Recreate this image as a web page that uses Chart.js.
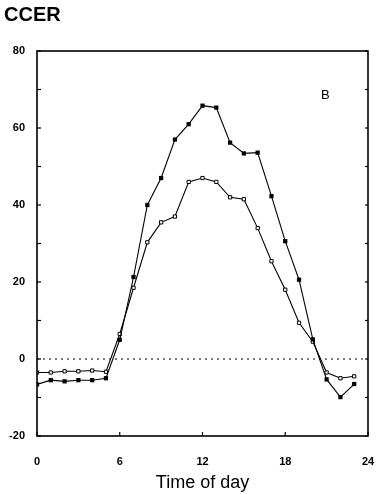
<!DOCTYPE html>
<html><head><meta charset="utf-8">
<script src="https://cdn.jsdelivr.net/npm/chart.js@4"></script>
<style>html,body{margin:0;padding:0;background:#fff;}#wrap{width:382px;height:494px;position:relative;}</style>
</head><body><div id="wrap"><canvas id="c" width="382" height="494"></canvas></div>
<script>
const hours = [0,1,2,3,4,5,6,7,8,9,10,11,12,13,14,15,16,17,18,19,20,21,22,23];
const filledSeries = [-6.6,-5.5,-5.8,-5.5,-5.5,-5.0,5.0,21.3,40,47,57,61,65.8,65.3,56.2,53.4,53.6,42.3,30.6,20.6,5.1,-5.3,-9.9,-6.5];
const openSeries = [-3.5,-3.5,-3.2,-3.2,-3.0,-3.3,6.5,18.5,30.3,35.5,37,46,47,46,42,41.5,34,25.4,18,9.4,4.5,-3.5,-5,-4.5];
const xTicks = [0,6,12,18,24];
const yTicks = [-20,0,20,40,60,80];
const chartTitle = "CCER";
const panelLabel = "B";
const xTitle = "Time of day";

const FONT = "'Liberation Sans', Arial, Helvetica, sans-serif";

const framePlugin = {
  id: 'frame',
  afterDatasetsDraw(chart) {
    const {ctx, chartArea: a, scales} = chart;
    ctx.save();
    const y0 = scales.y.getPixelForValue(0);
    ctx.strokeStyle = '#000'; ctx.lineWidth = 1; ctx.setLineDash([2,4]);
    ctx.beginPath(); ctx.moveTo(a.left, y0); ctx.lineTo(a.right, y0); ctx.stroke();
    ctx.setLineDash([]);
    ctx.lineWidth = 1.6;
    ctx.strokeRect(a.left, a.top, a.right - a.left, a.bottom - a.top);
    ctx.lineWidth = 1.2;
    for (let v = -20; v <= 80; v += 10) {
      const y = scales.y.getPixelForValue(v);
      ctx.beginPath(); ctx.moveTo(a.left, y); ctx.lineTo(a.left + 4, y); ctx.stroke();
      ctx.beginPath(); ctx.moveTo(a.right, y); ctx.lineTo(a.right - 3, y); ctx.stroke();
    }
    for (const v of xTicks) {
      const x = scales.x.getPixelForValue(v);
      ctx.beginPath(); ctx.moveTo(x, a.bottom); ctx.lineTo(x, a.bottom - 4); ctx.stroke();
    }
    ctx.fillStyle = '#000';
    ctx.font = "bold 20px " + FONT;
    ctx.textAlign = 'left'; ctx.textBaseline = 'alphabetic';
    ctx.fillText(chartTitle, 4, 21);
    ctx.font = "13px " + FONT;
    ctx.fillText(panelLabel, 321, 99);
    ctx.restore();
  }
};

new Chart(document.getElementById('c'), {
  type: 'line',
  data: {
    datasets: [
      {
        label: 'filled',
        data: hours.map((h,i) => ({x:h, y:filledSeries[i]})),
        borderColor: '#000', backgroundColor: '#000', borderWidth: 1.1,
        pointStyle: 'rect', pointRadius: 3, pointBorderWidth: 0, pointBackgroundColor: '#000',
        tension: 0
      },
      {
        label: 'open',
        data: hours.map((h,i) => ({x:h, y:openSeries[i]})),
        borderColor: '#000', backgroundColor: '#fff', borderWidth: 1.1,
        pointStyle: 'rect', pointRadius: 2.3, pointBorderWidth: 1, pointBackgroundColor: '#fff', pointBorderColor: '#000',
        tension: 0
      }
    ]
  },
  options: {
    responsive: false, animation: false, devicePixelRatio: 1,
    layout: { padding: { top: 51, right: 14, left: 0, bottom: 0 } },
    plugins: { legend: { display: false }, tooltip: { enabled: false }, title: { display: false } },
    scales: {
      x: {
        type: 'linear', min: 0, max: 24,
        afterBuildTicks: s => { s.ticks = xTicks.map(v => ({value: v})); },
        afterFit: s => { s.height = 58; },
        grid: { display: true, drawOnChartArea: false, drawTicks: true, tickLength: 16, tickColor: 'rgba(0,0,0,0)' },
        border: { display: false },
        ticks: { color: '#000', font: { family: FONT, size: 11, weight: 'bold' }, padding: 3, maxRotation: 0 },
        title: { display: true, text: xTitle, color: '#000', font: { family: FONT, size: 18 }, padding: { top: 0, bottom: 0 } }
      },
      y: {
        min: -20, max: 80,
        afterBuildTicks: s => { s.ticks = yTicks.map(v => ({value: v})); },
        afterFit: s => { s.width = 37; },
        grid: { display: false, drawTicks: false },
        border: { display: false },
        ticks: { color: '#000', font: { family: FONT, size: 11, weight: 'bold' }, padding: 12 }
      }
    }
  },
  plugins: [framePlugin]
});
</script></body></html>
